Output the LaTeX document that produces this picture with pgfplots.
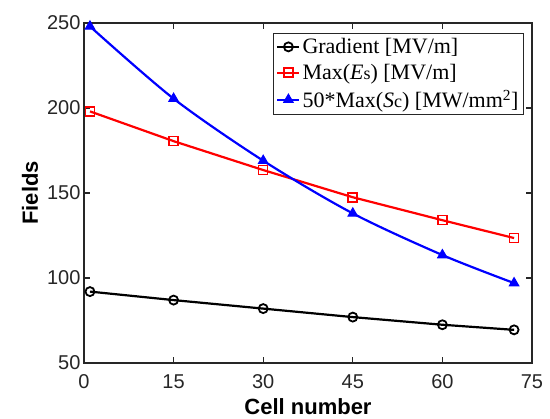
\documentclass[border=0pt]{standalone}
\usepackage{fontspec}
\setmainfont{Liberation Serif}
\newfontfamily\arial{Liberation Sans}
\usepackage{pgfplots}
\pgfplotsset{compat=1.18}
\usetikzlibrary{calc}
\definecolor{axgray}{RGB}{38,38,38}
\newcommand{\sm}[1]{{\fontsize{18}{18}\selectfont #1}}
\begin{document}
\begin{tikzpicture}
\begin{axis}[
  scale only axis, width=448pt, height=340pt,
  xmin=0, xmax=75, ymin=50, ymax=250,
  xtick={0,15,30,45,60,75}, ytick={50,100,150,200,250},
  tick align=inside, major tick length=6pt,
  xtick pos=both, ytick pos=both,
  axis line style={line width=1.3pt, color=axgray},
  every tick/.style={line width=1.1pt, axgray},
  tick label style={font=\fontsize{20}{20}\selectfont\arial, text=axgray},
  xticklabel style={yshift=-8pt},
  /pgf/number format/assume math mode=true,
  every axis x label/.style={at={(axis description cs:0.5,0)}, anchor=center, yshift=-44pt},
  every axis y label/.style={at={(axis description cs:0,0.5)}, anchor=center, rotate=90, yshift=54pt},
  xlabel={\fontsize{22}{22}\selectfont\arial\bfseries Cell number},
  ylabel={\fontsize{22}{22}\selectfont\arial\bfseries Fields},
  legend style={at={(1,1)}, anchor=north east, xshift=-8pt, yshift=-10pt,
    font=\fontsize{22}{24}\selectfont, draw=axgray, line width=1pt,
    inner sep=3pt, row sep=5pt},
  legend cell align=left,
  legend image code/.code={\draw[mark repeat=2,mark phase=2] plot coordinates {(0pt,0pt)(11pt,0pt)(22pt,0pt)};},
]
\addplot[black, line width=2.2pt, mark=o, mark size=4.5pt, mark options={line width=1.8pt}]
  coordinates {(1,92)(15,87)(30,82)(45,77)(60,72.5)(72,69.5)};
\addlegendentry{Gradient [MV/m]}
\addplot[red, line width=2.2pt, mark=square, mark size=4.5pt, mark options={line width=1.6pt}]
  coordinates {(1,198)(15,180.5)(30,163.5)(45,147.5)(60,134)(72,123.5)};
\addlegendentry{Max(\textit{E}\sm{s}) [MV/m]}
\addplot[blue, line width=2.2pt, smooth, mark=triangle*, mark size=5.5pt, mark options={line width=1pt}]
  coordinates {(1,248)(15,205.5)(30,169)(45,138)(60,113.5)(72,97)};
\addlegendentry{50*Max(\textit{S}\sm{c}) [MW/mm\textsuperscript{2}]}
\end{axis}
\pgfresetboundingbox
\path[use as bounding box] ($(current axis.south west)+(-84pt,-56pt)$) rectangle ($(current axis.north east)+(18pt,23pt)$);
\end{tikzpicture}
\end{document}
